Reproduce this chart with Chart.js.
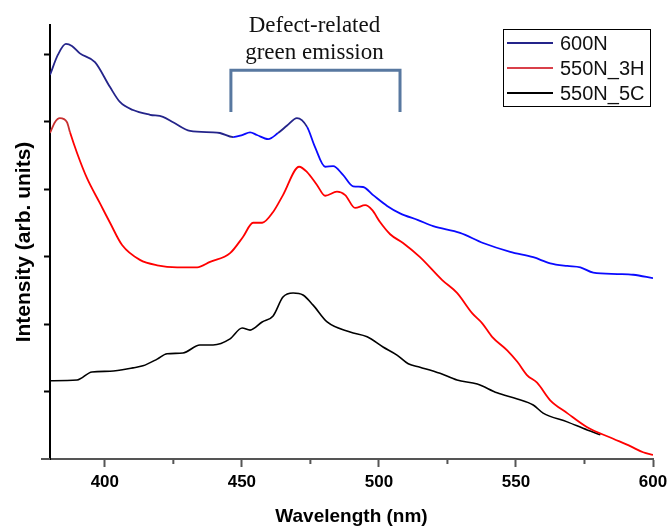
<!DOCTYPE html>
<html><head><meta charset="utf-8">
<script src="https://cdn.jsdelivr.net/npm/chart.js@4.4.1/dist/chart.umd.min.js"></script>
<style>html,body{margin:0;padding:0;background:#fff}canvas{display:block}</style>
</head><body>
<canvas id="c" width="672" height="531"></canvas>
<script>
// ---------- data ----------
const seriesNames = ['600N', '550N_3H', '550N_5C'];
const xTickValues = [400, 450, 500, 550, 600];
const xMinorTicks = [425, 475, 525, 575];
const yTickValues = [1, 2, 3, 4, 5, 6];

const wl600N = [380.0,382.9,385.8,388.0,390.9,396.4,401.9,405.5,410.3,416.5,421.2,424.9,431.1,439.5,442.0,446.8,450.1,453.0,455.5,459.6,463.2,466.5,470.1,473.8,476.7,480.4,483.3,486.9,490.6,494.2,497.9,503.0,507.7,514.3,519.8,529.6,538.0,547.9,556.3,562.5,568.7,573.5,578.2,587.0,592.8,600.0];
const int600N = [5.69,5.99,6.15,6.12,6.01,5.88,5.51,5.29,5.17,5.10,5.07,4.99,4.86,4.84,4.83,4.77,4.80,4.84,4.80,4.74,4.83,4.94,5.05,4.92,4.62,4.33,4.34,4.21,4.04,4.03,3.91,3.75,3.64,3.54,3.45,3.35,3.20,3.07,2.99,2.90,2.86,2.84,2.76,2.74,2.73,2.68];

const wl550N3H = [380.0,381.8,383.6,386.2,387.3,389.9,393.5,398.2,401.9,406.3,412.8,419.1,426.4,433.7,438.4,445.7,450.4,454.1,457.4,461.4,465.0,470.9,473.8,477.4,480.4,484.7,487.7,491.3,495.0,497.5,500.4,504.1,508.8,515.0,523.1,528.5,534.0,537.7,541.3,546.8,550.5,554.1,557.7,562.5,568.7,576.0,585.5,591.7,596.4,600.0];
const int550N3H = [4.83,4.99,5.05,4.99,4.84,4.53,4.16,3.79,3.50,3.17,2.95,2.87,2.84,2.84,2.92,3.05,3.29,3.50,3.50,3.66,3.91,4.33,4.25,4.06,3.90,3.96,3.91,3.72,3.76,3.69,3.51,3.33,3.20,2.99,2.65,2.46,2.16,2.01,1.81,1.61,1.44,1.24,1.13,0.87,0.68,0.47,0.30,0.19,0.10,0.06];

const wl550N5C = [380.0,389.9,395.3,401.9,410.3,413.9,419.1,422.7,428.5,434.7,439.5,445.7,450.1,453.0,457.4,461.4,465.0,468.7,472.3,476.0,481.1,489.5,495.7,501.5,506.6,510.7,515.0,522.3,528.5,535.9,543.1,550.5,556.3,559.9,568.7,576.0,580.8];
const int550N5C = [1.16,1.17,1.29,1.30,1.35,1.38,1.48,1.56,1.57,1.69,1.69,1.78,1.94,1.91,2.03,2.12,2.40,2.46,2.43,2.28,2.03,1.88,1.81,1.66,1.54,1.41,1.36,1.27,1.17,1.11,0.98,0.89,0.80,0.68,0.55,0.43,0.36];

const annotationLines = ['Defect-related', 'green emission'];
const bracketWl = [446.0, 507.7];
const bracketLevels = [5.76, 5.14];

// ---------- build ----------
const SANS = '"Liberation Sans", Arial, sans-serif';
const SERIF = '"Liberation Serif", "Times New Roman", serif';
const toXY = (xs, ys) => xs.map((v, i) => ({x: v, y: ys[i]}));
const legendColors = ['#24248a', '#d9404a', '#000000'];

const overlay = {
  id: 'overlay',
  afterDraw(chart) {
    const {ctx, chartArea: a, scales: {x, y}} = chart;
    ctx.save();
    // x-axis extension to the left and minor ticks
    ctx.strokeStyle = '#555'; ctx.lineWidth = 2;
    ctx.beginPath(); ctx.moveTo(a.left - 9, a.bottom); ctx.lineTo(a.left, a.bottom); ctx.stroke();
    xMinorTicks.forEach(v => {
      const px = x.getPixelForValue(v);
      ctx.beginPath(); ctx.moveTo(px, a.bottom); ctx.lineTo(px, a.bottom + 5); ctx.stroke();
    });
    // bracket
    const bx0 = x.getPixelForValue(bracketWl[0]), bx1 = x.getPixelForValue(bracketWl[1]);
    const by0 = y.getPixelForValue(bracketLevels[0]), by1 = y.getPixelForValue(bracketLevels[1]);
    ctx.strokeStyle = '#5878a0'; ctx.lineWidth = 3; ctx.lineJoin = 'miter';
    ctx.beginPath(); ctx.moveTo(bx0, by1); ctx.lineTo(bx0, by0); ctx.lineTo(bx1, by0); ctx.lineTo(bx1, by1); ctx.stroke();
    // annotation text
    ctx.fillStyle = '#111'; ctx.font = '23px ' + SERIF; ctx.textAlign = 'center'; ctx.textBaseline = 'alphabetic';
    const cx = (bx0 + bx1) / 2 - 1;
    ctx.fillText(annotationLines[0], cx, by0 - 38);
    ctx.fillText(annotationLines[1], cx, by0 - 11);
    // legend
    const L = a.right - 150, T = a.top + 4, W = 147, H = 77;
    ctx.strokeStyle = '#000'; ctx.lineWidth = 1;
    ctx.strokeRect(L + 0.5, T + 0.5, W, H);
    ctx.font = '20px ' + SANS; ctx.textAlign = 'left'; ctx.textBaseline = 'middle';
    seriesNames.forEach((n, i) => {
      const yy = T + 14 + i * 25;
      ctx.strokeStyle = legendColors[i]; ctx.lineWidth = 2;
      ctx.beginPath(); ctx.moveTo(L + 4, yy); ctx.lineTo(L + 50, yy); ctx.stroke();
      ctx.fillStyle = '#111';
      ctx.fillText(n, L + 57, yy + 1);
    });
    ctx.restore();
  }
};

new Chart(document.getElementById('c'), {
  type: 'line',
  data: {
    datasets: [
      {label: seriesNames[0], data: toXY(wl600N, int600N), borderColor: '#0a0aff', borderWidth: 1.8,
       segment: {borderColor: c => { const v = c.p0.parsed.x; return (v < 443 || (v >= 463 && v < 473)) ? '#24248a' : '#0a0aff'; }}},
      {label: seriesNames[1], data: toXY(wl550N3H, int550N3H), borderColor: '#ff0000', borderWidth: 1.8,
       segment: {borderColor: c => c.p0.parsed.x < 387 ? '#c83030' : '#ff0000'}},
      {label: seriesNames[2], data: toXY(wl550N5C, int550N5C), borderColor: '#000000', borderWidth: 1.6}
    ]
  },
  options: {
    responsive: false, animation: false, devicePixelRatio: 1,
    layout: {padding: {left: 12, right: 19, top: 25, bottom: 3}},
    plugins: {legend: {display: false}, tooltip: {enabled: false}},
    elements: {point: {radius: 0}, line: {cubicInterpolationMode: 'monotone'}},
    scales: {
      x: {
        type: 'linear', min: 380, max: 600,
        afterBuildTicks: s => { s.ticks = xTickValues.map(v => ({value: v})); },
        afterFit: s => { s.height = 69; s.paddingLeft = 0; s.paddingRight = 0; },
        ticks: {color: '#000', font: {family: SANS, size: 17, weight: 'bold'}, padding: 5, maxRotation: 0, autoSkip: false},
        grid: {display: true, drawOnChartArea: false, drawTicks: true, tickLength: 8, tickColor: '#555', tickWidth: 2},
        border: {display: true, color: '#555', width: 2},
        title: {display: true, text: 'Wavelength (nm)', color: '#000', font: {family: SANS, size: 19, weight: 'bold'}, padding: {top: 8, bottom: 0}}
      },
      y: {
        min: 0, max: 6.43,
        afterBuildTicks: s => { s.ticks = yTickValues.map(v => ({value: v})); },
        afterFit: s => { s.width = 38; s.paddingTop = 0; s.paddingBottom = 0; },
        ticks: {display: false},
        grid: {display: true, drawOnChartArea: false, drawTicks: true, tickLength: 6, tickColor: '#000', tickWidth: 2},
        border: {display: true, color: '#000', width: 2},
        title: {display: true, text: 'Intensity (arb. units)', color: '#000', font: {family: SANS, size: 21, weight: 'bold'}, padding: {top: 0, bottom: 8}}
      }
    }
  },
  plugins: [overlay]
});
</script>
</body></html>
